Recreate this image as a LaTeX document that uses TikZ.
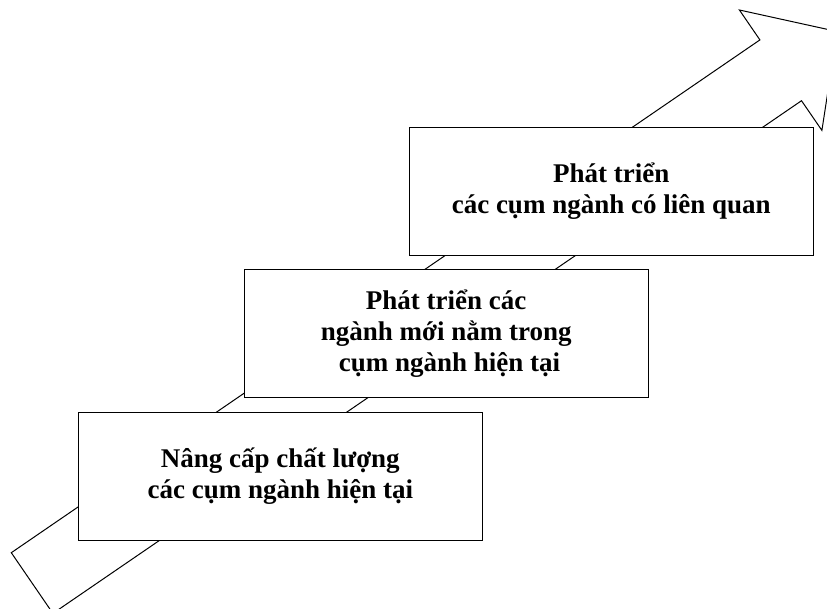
\documentclass[tikz,border=0pt]{standalone}
\usepackage{fontspec}
\setmainfont{Liberation Serif}
\begin{document}
\begin{tikzpicture}[x=1pt,y=-1pt,
  stepbox/.style={draw=black, line width=1.3pt, fill=white,
    minimum width=404pt, minimum height=128pt, inner sep=0pt, align=center,
    font=\fontsize{27}{31}\selectfont\bfseries},
  bigarrow/.style={draw=black, line width=1pt, fill=white, line join=miter}]
\useasboundingbox (0,0) rectangle (827,608);
\begin{scope}
  \clip (0,0) rectangle (827,608);
  \coordinate (tu)  at (11.3,552.7);
  \coordinate (hu)  at (759.9,39.9);
  \coordinate (bl)  at (739.4,10.0);
  \coordinate (tip) at (837.1,31.5);
  \coordinate (br)  at (821.9,130.4);
  \coordinate (hl)  at (801.5,100.7);
  \coordinate (tl)  at (52.9,613.4);
  \draw[bigarrow] (tu) -- (hu) -- (bl) -- (tip) -- (br) -- (hl) -- (tl) -- cycle;
\end{scope}
\node[stepbox] (s1) at (280.3,476.2) {Nâng cấp chất lượng\\các cụm ngành hiện tại};
\node[stepbox] (s2) at (446.2,333.7) {Phát triển các\\ngành mới nằm trong\\\ cụm ngành hiện tại};
\node[stepbox] (s3) at (611.2,191.2) {Phát triển\\các cụm ngành có liên quan};
\end{tikzpicture}
\end{document}
